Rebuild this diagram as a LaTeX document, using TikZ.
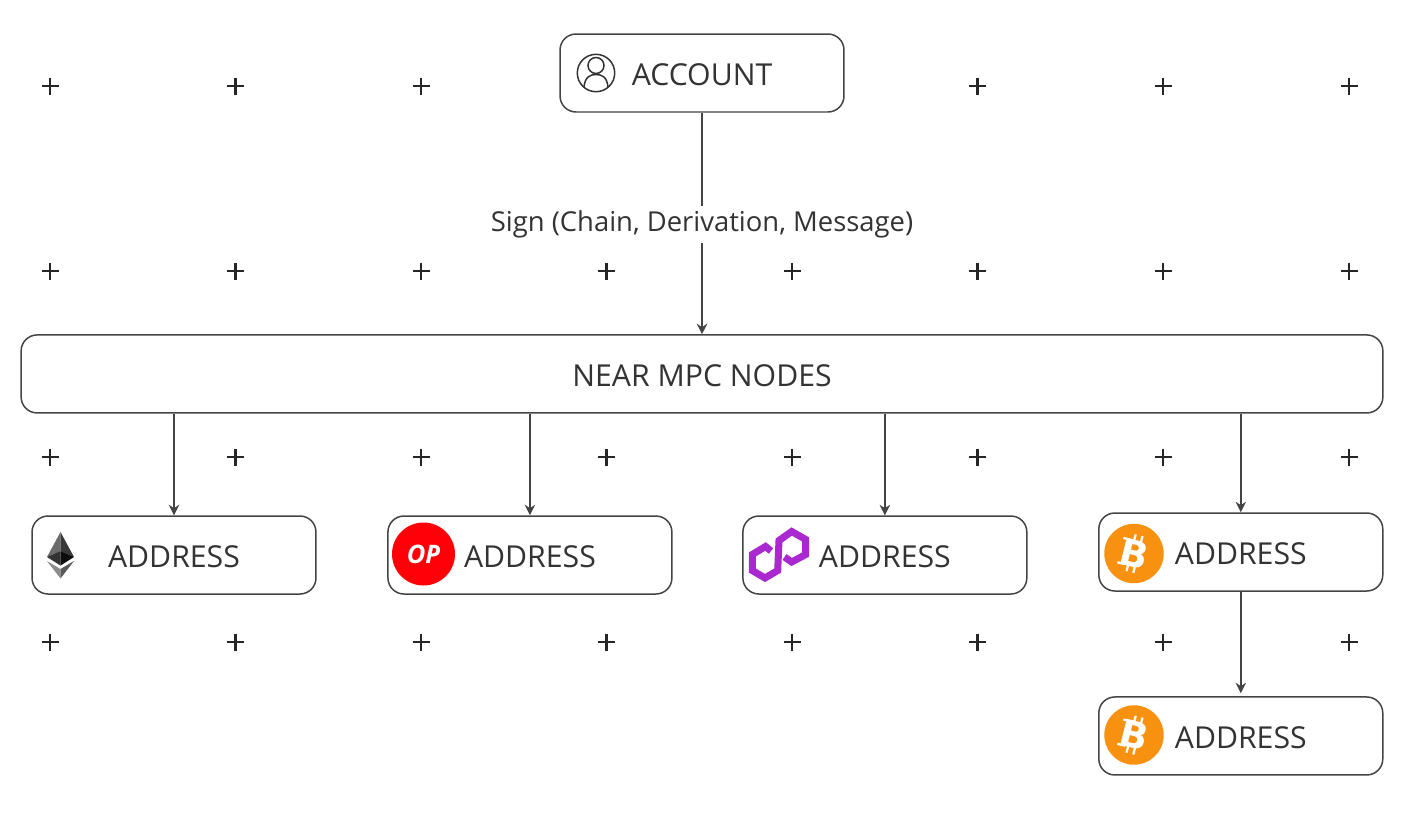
\documentclass[tikz,border=0pt]{standalone}
\usepackage{fontspec}
\setmainfont{Open Sans}
\newfontfamily\iconfont{DejaVu Sans}
\usetikzlibrary{positioning,arrows.meta}
\definecolor{inkgray}{HTML}{333333}
\definecolor{linegray}{HTML}{444444}
\definecolor{opred}{HTML}{FF0008}
\definecolor{btcorange}{HTML}{F8910F}
\definecolor{polypurple}{HTML}{A928CF}
\tikzstyle{box}=[draw=linegray,fill=white,rounded corners=.32cm,line width=.85pt,
  minimum width=5.68cm,minimum height=1.56cm,inner sep=0pt,text=inkgray,
  text height=14.2pt,text depth=0pt,font=\fontsize{17.2}{20}\selectfont]
\tikzstyle{widebox}=[box,minimum width=27.24cm]
\tikzstyle{plusmark}=[line width=1.6pt,black!85]
\tikzstyle{flow}=[->,linegray,line width=.85pt]
\tikzstyle{signlabel}=[fill=white,inner xsep=2pt,inner ysep=3pt,text=inkgray,
  font=\fontsize{15.6}{18}\selectfont]
\tikzstyle{btclogo}=[circle,fill=btcorange,minimum size=1.19cm,inner sep=0pt,text=white,
  rotate=-14,font=\iconfont\bfseries\fontsize{21}{21}\selectfont]
\tikzstyle{oplogo}=[circle,fill=opred,minimum size=1.26cm,inner sep=0pt,text=white,
  font=\bfseries\itshape\fontsize{14.5}{14.5}\selectfont]

\begin{document}
\begin{tikzpicture}[x=.02cm, y=-.02cm, >={Stealth[length=6pt,width=6pt]}, on grid]
  \useasboundingbox (0,0) rectangle (1406,812);

  % background grid
  \foreach \y in {271,457,642}
    \foreach \x in {50,235.5,421,606.5,792,977.5,1163,1349}
      \draw[plusmark] (\x-8.5,\y) -- (\x+8.5,\y) (\x,\y-8.5) -- (\x,\y+8.5);
  \foreach \x in {50,235.5,421,977.5,1163,1349}
    \draw[plusmark] (\x-8.5,86) -- (\x+8.5,86) (\x,77.5) -- (\x,94.5);

  \node[box] (account) at (702,73) {ACCOUNT};
  \node[widebox, below=6.02cm of account] (near) {NEAR MPC NODES};

  \node[box] (eth) at (174,555) {ADDRESS};
  \node[box, right=7.12cm of eth] (op) {ADDRESS};
  \node[box, right=7.1cm of op] (poly) {ADDRESS};
  \node[box, right=7.12cm of poly, yshift=.06cm] (btc) {ADDRESS};
  \node[box, below=3.68cm of btc] (btc2) {ADDRESS};

  \draw[flow] (account) -- node[signlabel, pos=.5, yshift=-.02cm] (sign) {Sign (Chain, Derivation, Message)} (near);
  \draw[flow] (near.south -| eth) -- (eth);
  \draw[flow] (near.south -| op) -- (op);
  \draw[flow] (near.south -| poly) -- (poly);
  \draw[flow] (near.south -| btc) -- (btc);
  \draw[flow, shorten >=1.7pt] (btc) -- (btc2);

  % account icon
  \draw[inkgray, line width=.85pt] (596,73) circle (18.7) (596,65.5) circle (8);
  \draw[inkgray, line width=.85pt] (584,87) .. controls (585,77) and (590,74.5) .. (596,74.5)
    .. controls (602,74.5) and (607,77) .. (608,87);

  % eth icon
  \fill[black!58] (60.5,532) -- (47,557) -- (60.5,551) -- cycle;
  \fill[black!78] (60.5,532) -- (74,557) -- (60.5,551) -- cycle;
  \fill[black!80] (47,557) -- (60.5,551) -- (60.5,565.5) -- cycle;
  \fill[black!95] (74,557) -- (60.5,551) -- (60.5,565.5) -- cycle;
  \fill[black!45] (47,561) -- (60.5,569) -- (60.5,578.5) -- cycle;
  \fill[black!65] (74,561) -- (60.5,569) -- (60.5,578.5) -- cycle;

  \node[oplogo] (oplogo1) at (423.5,554) {OP};

  % polygon icon
  \draw[polypurple, line width=4pt]
    (771,551) -- (765.5,546.5) -- (752.3,554.5) -- (752.3,570.5) -- (765,578) -- (777.7,570.5)
    -- (779,540.5) -- (791.7,531.5) -- (805.7,539.5) -- (805.7,554.5) -- (791.7,562) -- (784.5,557);

  \node[btclogo] (btclogo1) at (1134,553.5) {B};
  \node[btclogo] (btclogo2) at (1134,735) {B};
  \foreach \logo in {btclogo1,btclogo2}
    \draw[white, line width=1.3pt, shift={(\logo)}, rotate=-14]
      (-3,-11) -- (-3,-19) (4,-11) -- (4,-19) (-3,11) -- (-3,19) (4,11) -- (4,19)
      (-14,-12.5) -- (-6,-12.5) (-14,12.5) -- (-6,12.5);
\end{tikzpicture}
\end{document}
